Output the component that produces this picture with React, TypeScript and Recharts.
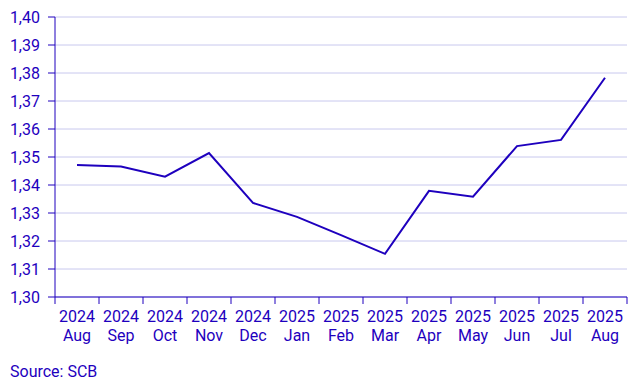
import { LineChart, Line, XAxis, YAxis, CartesianGrid } from 'recharts';

const years = ['2024', '2024', '2024', '2024', '2024', '2025', '2025', '2025', '2025', '2025', '2025', '2025', '2025'];
const months = ['Aug', 'Sep', 'Oct', 'Nov', 'Dec', 'Jan', 'Feb', 'Mar', 'Apr', 'May', 'Jun', 'Jul', 'Aug'];
const values = [1.3471, 1.3466, 1.343, 1.3514, 1.3336, 1.3286, 1.3221, 1.3154, 1.3379, 1.3358, 1.3539, 1.3561, 1.3783];
const yTicks = [1.3, 1.31, 1.32, 1.33, 1.34, 1.35, 1.36, 1.37, 1.38, 1.39, 1.4];

const BLUE = '#1e00be';
const FONT = 'Roboto, "Liberation Sans", Arial, sans-serif';

const data = values.map((v, i) => ({ pos: i + 0.5, value: v }));
const boundaries = Array.from({ length: months.length + 1 }, (_, i) => i);

const W = 643;
const H = 386;
const LEFT = 55;
const RIGHT = 16;
const step = (W - LEFT - RIGHT) / months.length;

function MonthTick(props: any) {
    const { x, y, payload } = props;
    const i = payload.value;
    if (i >= months.length) return null;
    return (
        <g transform={`translate(${x + step / 2},${y})`}>
            <text textAnchor="middle" fill={BLUE} fontSize={16} fontFamily={FONT}>
                <tspan x={0} dy={16}>{years[i]}</tspan>
                <tspan x={0} dy={19}>{months[i]}</tspan>
            </text>
        </g>
    );
}

export default function App() {
    return (
        <div style={{ position: 'absolute', left: 0, top: 0, width: W, height: H, background: '#fff' }}>
            <LineChart width={W} height={H} data={data} margin={{ top: 17, right: RIGHT, bottom: 39, left: 0 }}>
                <CartesianGrid vertical={false} stroke="#c8c8ee" strokeWidth={1} />
                <XAxis
                    dataKey="pos"
                    type="number"
                    domain={[0, months.length]}
                    ticks={boundaries}
                    interval={0}
                    height={50}
                    stroke={BLUE}
                    tickSize={7}
                    tick={<MonthTick />}
                />
                <YAxis
                    domain={[1.3, 1.4]}
                    ticks={yTicks}
                    interval={0}
                    width={LEFT}
                    stroke={BLUE}
                    tickSize={7}
                    tickMargin={8}
                    tickFormatter={(v: number) => v.toFixed(2).replace('.', ',')}
                    tick={{ fill: BLUE, fontSize: 16, fontFamily: FONT }}
                />
                <Line
                    dataKey="value"
                    stroke={BLUE}
                    strokeWidth={2}
                    dot={false}
                    isAnimationActive={false}
                />
            </LineChart>
            <div style={{ position: 'absolute', left: 10, top: 362, color: BLUE, fontSize: 16, fontFamily: FONT }}>
                Source: SCB
            </div>
        </div>
    );
}
